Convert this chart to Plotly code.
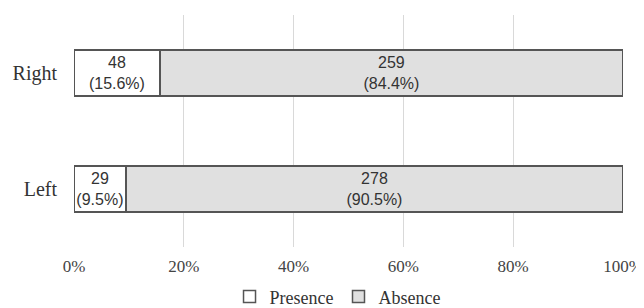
import plotly.graph_objects as go

categories = ["Left", "Right"]
presence = [29, 48]
absence = [278, 259]
presence_pct_label = ["9.5%", "15.6%"]
absence_pct_label = ["90.5%", "84.4%"]
tick_vals = [0, 20, 40, 60, 80, 100]
tick_text = ["0%", "20%", "40%", "60%", "80%", "100%"]

totals = [p + a for p, a in zip(presence, absence)]
pres_pct = [p / t * 100 for p, t in zip(presence, totals)]
abs_pct = [a / t * 100 for a, t in zip(absence, totals)]

label_font = dict(family="Liberation Sans", size=16, color="#333333")

fig = go.Figure()
fig.add_trace(go.Bar(
    y=categories, x=pres_pct, orientation="h", name="Presence",
    marker=dict(color="white", line=dict(color="#555555", width=1.5)),
    text=[f"{v}<br>({l})" for v, l in zip(presence, presence_pct_label)],
    textposition="inside", insidetextanchor="middle", textangle=0,
    constraintext="none", textfont=label_font,
    width=0.4, hoverinfo="skip",
))
fig.add_trace(go.Bar(
    y=categories, x=abs_pct, orientation="h", name="Absence",
    marker=dict(color="#e0e0e0", line=dict(color="#555555", width=1.5)),
    text=[f"{v}<br>({l})" for v, l in zip(absence, absence_pct_label)],
    textposition="inside", insidetextanchor="middle", textangle=0,
    constraintext="none", textfont=label_font,
    width=0.4, hoverinfo="skip",
))

fig.update_layout(
    barmode="stack",
    width=636, height=300,
    margin=dict(l=66, r=21, t=7, b=61, autoexpand=False),
    paper_bgcolor="white", plot_bgcolor="white",
    font=dict(family="Liberation Serif", size=18, color="#333333"),
    xaxis=dict(range=[0, 100], tickvals=tick_vals, ticktext=tick_text,
               showgrid=True, gridcolor="#d9d9d9", gridwidth=1,
               zeroline=False, showline=False, ticks="", automargin=False,
               ticklabelstandoff=7,
               tickfont=dict(family="Liberation Serif", size=17, color="#444444")),
    yaxis=dict(showgrid=False, zeroline=False, showline=False, ticks="",
               automargin=False, ticklabelstandoff=16,
               tickfont=dict(family="Liberation Serif", size=20, color="#333333")),
    legend=dict(orientation="h", x=0.48, xanchor="center", y=-0.135, yanchor="top",
                font=dict(family="Liberation Serif", size=18, color="#333333"),
                itemwidth=30, traceorder="normal"),
    showlegend=True,
)

fig.write_html("out.html")
